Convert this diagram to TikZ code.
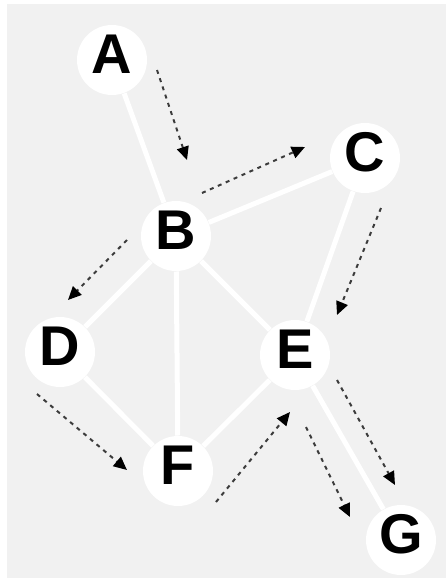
\documentclass[tikz,border=0pt]{standalone}
\usepackage{fontspec}
\setmainfont{Liberation Sans}
\usetikzlibrary{arrows.meta}

\tikzset{every picture/.style={line width=0.75pt}}
\tikzset{
  vertex/.style={circle, fill=white, inner sep=0pt, minimum size=52.5pt,
    text height=30pt, text depth=10.5pt, font=\fontsize{42}{42}\selectfont\bfseries},
  link/.style={draw=white, line width=3.75pt},
  walk/.style={draw={rgb, 255:red, 60; green, 60; blue, 60}, line width=1.5pt,
    dash pattern=on 3pt off 3.5pt, -{Triangle[length=10pt,width=9pt,black]}},
}

\begin{document}
\begin{tikzpicture}[x=0.75pt,y=0.75pt,yscale=-1,xscale=1]
\useasboundingbox (0,0) rectangle (446,578);
\fill [white] (0,0) rectangle (446,578);
%Shape: Rectangle [id:background]
\fill [color={rgb, 255:red, 241; green, 241; blue, 241 }] (7,4) rectangle (446,578);

% Text Node
\node [vertex] (A) at (112,60) {A};
% Text Node
\node [vertex] (B) at (176,236) {B};
% Text Node
\node [vertex] (C) at (365,158) {C};
% Text Node
\node [vertex] (D) at (60,352) {D};
% Text Node
\node [vertex] (E) at (295,355) {E};
% Text Node
\node [vertex] (F) at (178,471) {F};
% Text Node
\node [vertex] (G) at (401,540) {G};

%Straight Lines
\draw [link] (A) -- (B);
\draw [link] (B) -- (C);
\draw [link] (C) -- (E);
\draw [link] (B) -- (D);
\draw [link] (B) -- (F);
\draw [link] (B) -- (E);
\draw [link] (D) -- (F);
\draw [link] (F) -- (E);
\draw [link] (E) -- (G);

%Dashed arrows
\coordinate (ab1) at (157,70);   \coordinate (ab2) at (187,160);
\coordinate (bc1) at (202,193);  \coordinate (bc2) at (305,147);
\coordinate (bd1) at (127,240);  \coordinate (bd2) at (68,300);
\coordinate (ce1) at (381,208);  \coordinate (ce2) at (337,315);
\coordinate (df1) at (37,394);   \coordinate (df2) at (127,470);
\coordinate (fe1) at (216,502);  \coordinate (fe2) at (290,412);
\coordinate (eg1) at (306,427);  \coordinate (eg2) at (350,517);
\coordinate (eh1) at (337,380);  \coordinate (eh2) at (395,485);

\draw [walk] (ab1) -- (ab2);
\draw [walk] (bc1) -- (bc2);
\draw [walk] (bd1) -- (bd2);
\draw [walk] (ce1) -- (ce2);
\draw [walk] (df1) -- (df2);
\draw [walk] (fe1) -- (fe2);
\draw [walk] (eg1) -- (eg2);
\draw [walk] (eh1) -- (eh2);

\end{tikzpicture}
\end{document}
